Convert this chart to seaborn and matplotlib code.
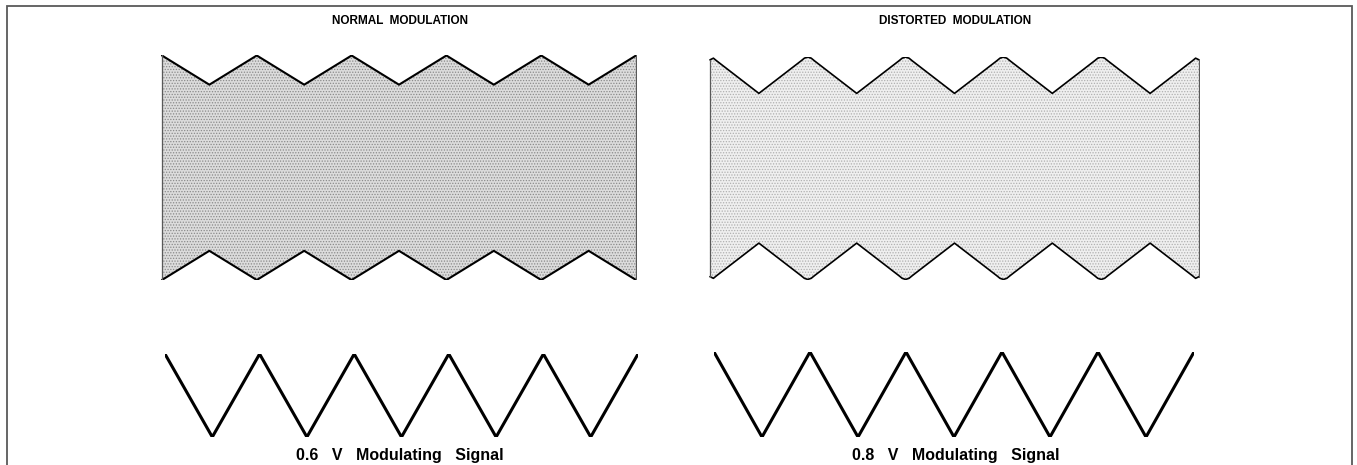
import matplotlib
matplotlib.use("Agg")
import matplotlib.pyplot as plt
import matplotlib.patches as mpatches
import numpy as np
import seaborn as sns

# data (x in cycles of the modulating signal, y relative to carrier peak)
panel_titles = ["NORMAL  MODULATION", "DISTORTED  MODULATION"]
signal_labels = ["0.6   V   Modulating   Signal", "0.8   V   Modulating   Signal"]

# modulating signal: triangle wave vertices
mod_x = [0, 0.5, 1, 1.5, 2, 2.5, 3, 3.5, 4, 4.5, 5]
mod_y = [1, -1, 1, -1, 1, -1, 1, -1, 1, -1, 1]

# normal envelope (upper edge, lower edge is mirror)
normal_x = [0, 0.5, 1, 1.5, 2, 2.5, 3, 3.5, 4, 4.5, 5]
normal_env = [1.0, 0.74, 1.0, 0.74, 1.0, 0.74, 1.0, 0.74, 1.0, 0.74, 1.0]

# distorted envelope: rounded outer peaks, sharp inner valleys
dist_x = [0, 0.035, 0.07, 0.5, 0.93, 0.965, 1, 1.035, 1.07, 1.5,
          1.93, 1.965, 2, 2.035, 2.07, 2.5, 2.93, 2.965, 3, 3.035, 3.07, 3.5,
          3.93, 3.965, 4, 4.035, 4.07, 4.5, 4.93, 4.965, 5]
dist_env = [0.97, 0.985, 0.96, 0.67, 0.96, 0.985, 0.995, 0.985, 0.96, 0.67,
            0.96, 0.985, 0.995, 0.985, 0.96, 0.67, 0.96, 0.985, 0.995, 0.985, 0.96, 0.67,
            0.96, 0.985, 0.995, 0.985, 0.96, 0.67, 0.96, 0.985, 0.97]

sns.set_theme(style="white")
plt.rcParams['font.family'] = ['Liberation Sans', 'DejaVu Sans']
plt.rcParams['hatch.linewidth'] = 0.6
plt.rcParams['text.color'] = 'black'

W, H = 1357, 465
fig = plt.figure(figsize=(W / 100, H / 100), dpi=100)

def box(x0, x1, ytop, ybot):
    return [x0 / W, 1 - ybot / H, (x1 - x0) / W, (ybot - ytop) / H]

def draw_env(ax, xs, env, face, hatchc, lw):
    env = np.array(env)
    ax.fill_between(xs, -env, env, facecolor=face, hatch="......",
                    edgecolor=hatchc, linewidth=0)
    sns.lineplot(x=xs, y=env, ax=ax, color="black", lw=lw, sort=False, estimator=None)
    sns.lineplot(x=xs, y=-env, ax=ax, color="black", lw=lw, sort=False, estimator=None)
    ax.plot([xs[0], xs[0]], [-env[0], env[0]], color="0.35", lw=0.9)
    ax.plot([xs[-1], xs[-1]], [-env[-1], env[-1]], color="0.35", lw=0.9)
    ax.set_ylim(-1, 1)
    ax.axis("off")

ax1 = fig.add_axes(box(161, 637, 55.5, 280))
draw_env(ax1, normal_x, normal_env, "#dcdcdc", "#8a8a8a", 1.5)
ax2 = fig.add_axes(box(709, 1200, 56.5, 280))
draw_env(ax2, dist_x, dist_env, "#efefef", "#b0b0b0", 1.2)
for a in (ax1, ax2):
    a.set_xlim(-0.01, 5.01)

ax3 = fig.add_axes(box(165, 638, 354, 437))
ax4 = fig.add_axes(box(714, 1194, 352, 437))
for a in (ax3, ax4):
    sns.lineplot(x=mod_x, y=mod_y, ax=a, color="black", lw=2.2, sort=False, estimator=None)
    a.set_xlim(0, 5)
    a.set_ylim(-1, 1)
    a.axis("off")

fig.text(400 / W, 1 - 21 / H, panel_titles[0], ha="center", va="center",
         fontsize=8.5, fontweight="bold")
fig.text(955 / W, 1 - 21 / H, panel_titles[1], ha="center", va="center",
         fontsize=8.5, fontweight="bold")
fig.text(400 / W, 1 - 455 / H, signal_labels[0], ha="center", va="center",
         fontsize=11.5, fontweight="bold")
fig.text(956 / W, 1 - 455 / H, signal_labels[1], ha="center", va="center",
         fontsize=11.5, fontweight="bold")

# outer frame
frame = mpatches.Rectangle((7 / W, -0.05), (1352 - 7) / W, 1.05 - 6 / H,
                           transform=fig.transFigure, fill=False,
                           edgecolor="0.35", lw=1.3)
fig.patches.append(frame)

fig.savefig("out.png", dpi=100)
